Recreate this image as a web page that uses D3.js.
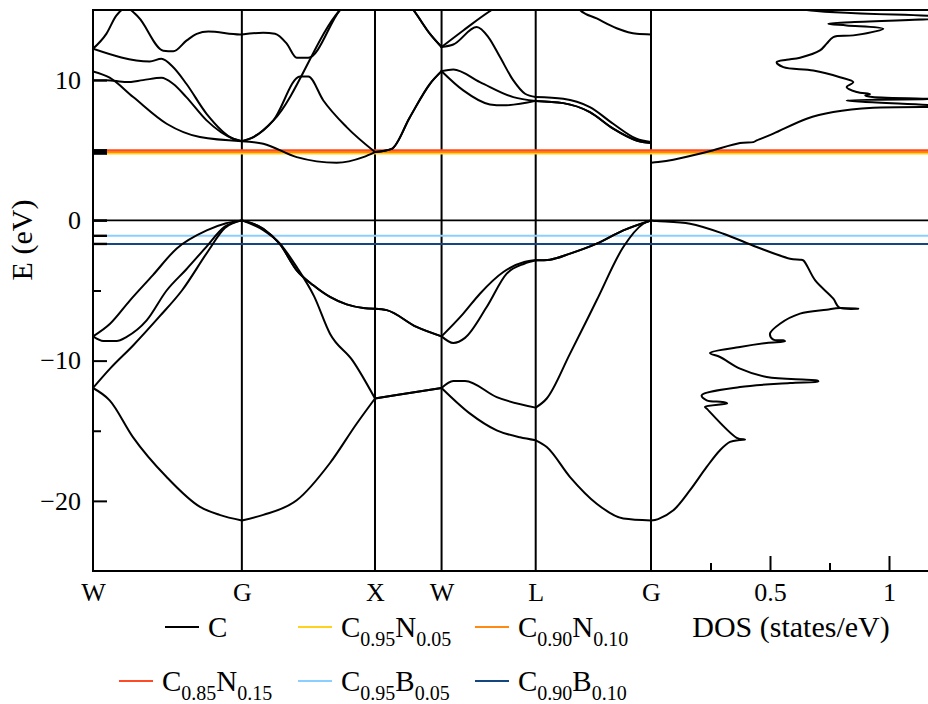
<!DOCTYPE html>
<html>
<head>
<meta charset="utf-8">
<script src="https://cdn.jsdelivr.net/npm/d3@7"></script>
<style>
  html, body { margin: 0; padding: 0; background: #fff; overflow: hidden; }
  svg text { font-family: "Liberation Serif", "Times New Roman", serif; fill: #000; }
</style>
</head>
<body>
<svg id="chart" width="928" height="704"></svg>
<script>
// High-symmetry points along the k-path (distance in units of 2π/a)
const kLabels = ["W", "G", "X", "W", "L", "G"];
const kPositions = [0, 1.118, 2.118, 2.618, 3.325, 4.191];

// Energy axis ticks (eV)
const energyTicks = [-20, -10, 0, 10];
const energyMinorTicks = [-15, -5, 5];

// DOS axis ticks (states/eV)
const dosTicks = [0.5, 1];
const dosMinorTicks = [0.25, 0.75];

// Valence bands of pure diamond, [k, E]
const band1 = [[0,-11.95],[0.125,-12.83],[0.30,-15.45],[0.553,-18.3],[0.804,-20.43],[0.95,-21.0],[1.118,-21.4],[1.279,-21.0],[1.53,-19.96],[1.78,-17.3],[1.98,-14.5],[2.118,-12.7],[2.28,-12.45],[2.618,-11.95],[2.832,-13.78],[3.032,-14.97],[3.207,-15.47],[3.325,-15.68],[3.408,-16.16],[3.583,-18.3],[3.783,-20.2],[3.983,-21.26],[4.191,-21.4]];
const band2 = [[0,-11.95],[0.128,-10.57],[0.303,-8.9],[0.5,-6.85],[0.668,-5.0],[0.864,-2.2],[0.99,-0.55],[1.118,0],[1.279,-0.7],[1.404,-1.66],[1.53,-3.33],[1.66,-5.4],[1.78,-8.08],[1.95,-10.0],[2.118,-12.7],[2.28,-12.45],[2.618,-11.95],[2.706,-11.45],[2.794,-11.45],[3.032,-12.6],[3.325,-13.35],[3.408,-12.7],[3.583,-9.5],[3.783,-5.7],[3.983,-1.9],[4.133,-0.24],[4.191,0]];
const band3 = [[0,-8.27],[0.078,-8.6],[0.178,-8.6],[0.253,-8.3],[0.403,-7.13],[0.553,-5.0],[0.7,-3.5],[0.841,-2.0],[0.99,-0.45],[1.118,0],[1.279,-0.6],[1.404,-1.7],[1.53,-3.56],[1.655,-4.63],[1.78,-5.46],[1.905,-5.99],[2.03,-6.25],[2.118,-6.3],[2.206,-6.4],[2.43,-7.6],[2.618,-8.27],[2.706,-8.74],[2.794,-8.38],[2.957,-6.18],[3.107,-3.8],[3.239,-3.09],[3.325,-2.85],[3.432,-2.8],[3.583,-2.37],[3.783,-1.66],[3.983,-0.71],[4.191,0]];
const band4 = [[0,-8.27],[0.128,-7.37],[0.278,-5.7],[0.45,-3.9],[0.629,-2.0],[0.854,-0.71],[1.0,-0.2],[1.118,0],[1.279,-0.6],[1.404,-1.7],[1.53,-3.56],[1.655,-4.63],[1.78,-5.46],[1.905,-5.99],[2.03,-6.25],[2.118,-6.3],[2.206,-6.4],[2.43,-7.6],[2.618,-8.27],[2.781,-6.65],[2.906,-5.23],[3.082,-3.68],[3.239,-2.97],[3.325,-2.85],[3.432,-2.8],[3.583,-2.37],[3.783,-1.66],[3.983,-0.71],[4.191,0]];

// Conduction bands, [k, E]
const band5 = [[0,10.0],[0.1,10.0],[0.25,9.86],[0.376,10.0],[0.514,10.17],[0.601,9.74],[0.701,8.79],[0.853,7.13],[1.053,5.82],[1.118,5.65],[1.279,5.47],[1.53,4.51],[1.83,4.11],[2.03,4.51],[2.118,4.87],[2.243,5.1],[2.38,7.36],[2.531,9.74],[2.618,10.64],[2.781,9.27],[2.981,8.27],[3.082,8.2],[3.325,8.52],[3.532,8.36],[3.732,7.72],[3.907,6.54],[4.082,5.7],[4.191,5.51]];
const band6 = [[0,10.62],[0.125,10.17],[0.302,8.79],[0.553,6.89],[0.803,5.94],[1.118,5.65],[1.205,5.94],[1.355,7.13],[1.555,10.26],[1.617,10.26],[1.73,8.55],[1.905,6.65],[2.118,4.87],[2.243,5.1],[2.38,7.36],[2.531,9.74],[2.618,10.64],[2.706,10.76],[2.906,9.86],[3.157,8.79],[3.325,8.52],[3.532,8.36],[3.732,7.72],[3.907,6.54],[4.082,5.7],[4.191,5.51]];
const band7 = [[0,12.24],[0.426,11.33],[0.514,11.52],[0.601,10.93],[0.701,9.74],[0.853,7.6],[1.053,5.82],[1.118,5.65],[1.205,5.94],[1.355,7.13],[1.855,15.0],[2.118,17.0],[2.306,16.1],[2.406,15.0],[2.531,13.3],[2.618,12.36],[2.706,12.54],[2.882,13.78],[2.969,13.07],[3.057,11.64],[3.157,9.98],[3.245,9.03],[3.325,8.79],[3.532,8.67],[3.732,8.07],[3.907,6.89],[4.082,5.82],[4.191,5.58]];
const band8 = [[0,12.24],[0.1,13.3],[0.175,14.6],[0.25,15.15],[0.34,14.5],[0.528,12.1],[0.603,12.05],[0.704,12.83],[0.779,13.3],[0.866,13.47],[1.104,13.26],[1.118,13.26],[1.279,13.38],[1.367,13.3],[1.455,12.6],[1.53,11.6],[1.617,11.6],[1.855,15.0],[2.118,17.0],[2.306,16.1],[2.406,15.0],[2.531,13.3],[2.618,12.36],[2.781,13.54],[2.995,15.0],[3.325,16.5],[3.62,15.5],[3.658,15.0],[3.783,14.4],[3.933,13.7],[4.084,13.3],[4.191,13.26]];

// Total density of states, [E, DOS]
const dosValence = [[-21.4,0],[-21.3,0.03],[-20.67,0.094],[-19.24,0.164],[-17.58,0.234],[-16.39,0.29],[-15.8,0.332],[-15.66,0.374],[-15.63,0.395],[-15.5,0.36],[-13.42,0.234],[-13.3,0.227],[-13.05,0.32],[-12.95,0.3],[-12.83,0.234],[-12.47,0.213],[-11.88,0.374],[-11.6,0.584],[-11.48,0.703],[-11.42,0.7],[-11.36,0.654],[-11.17,0.486],[-10.57,0.374],[-9.74,0.29],[-9.46,0.248],[-9.03,0.374],[-8.74,0.486],[-8.62,0.563],[-8.55,0.555],[-8.5,0.514],[-8.08,0.5],[-7.37,0.542],[-6.65,0.626],[-6.37,0.738],[-6.25,0.794],[-6.3,0.871],[-6.2,0.79],[-5.58,0.766],[-4.28,0.69],[-2.85,0.64],[-2.8,0.626],[-2.73,0.584],[-1.9,0.444],[-0.95,0.304],[-0.24,0.164],[-0.05,0.024],[0,0]];
const dosConduction = [[4.11,0],[4.16,0.03],[4.33,0.094],[4.87,0.234],[5.51,0.374],[5.58,0.43],[5.7,0.444],[6.18,0.514],[7.25,0.654],[7.72,0.766],[8.03,0.934],[8.12,1.25],[8.55,0.822],[8.65,1.2],[8.79,0.93],[8.9,0.9],[9.0,0.92],[9.15,0.864],[9.5,0.822],[9.86,0.85],[10.21,0.794],[10.69,0.682],[10.93,0.556],[11.28,0.528],[11.45,0.57],[11.6,0.626],[12.12,0.71],[12.6,0.738],[13.07,0.766],[13.19,0.85],[13.66,0.976],[13.9,0.822],[14.02,0.745],[14.47,1.25],[15.0,0.655],[15.3,0.6]];

// Fermi levels of the doped compositions (eV)
const levelNames = ["C", "C0.95N0.05", "C0.90N0.10", "C0.85N0.15", "C0.95B0.05", "C0.90B0.10"];
const levelEnergies = [0, 4.76, 4.88, 5.0, -1.1, -1.68];
const levelColors = ["#000000", "#FFD21F", "#FF8A12", "#FF4A26", "#8ACFFF", "#14477F"];

const bands = [band1, band2, band3, band4, band5, band6, band7, band8];

const serif = '"Liberation Serif", "Times New Roman", serif';

// ---- layout ----
const svg = d3.select("#chart");
const plotLeft = 93, plotTop = 10, plotBottom = 571, plotRight = 940;

const x = d3.scaleLinear().domain([0, d3.max(kPositions)]).range([plotLeft, 651]);
const xDos = d3.scaleLinear().domain([0, 1]).range([x(d3.max(kPositions)), 889]);
const y = d3.scaleLinear().domain([-25, 15]).range([plotBottom, plotTop]);

const defs = svg.append("defs");
defs.append("clipPath").attr("id", "clip-bands")
  .append("rect").attr("x", plotLeft).attr("y", plotTop)
  .attr("width", x.range()[1] - plotLeft).attr("height", plotBottom - plotTop);
defs.append("clipPath").attr("id", "clip-dos")
  .append("rect").attr("x", xDos(0)).attr("y", plotTop)
  .attr("width", plotRight - xDos(0)).attr("height", plotBottom - plotTop);

// vertical lines at the high-symmetry points
svg.append("g").selectAll("line")
  .data(kPositions.slice(1))
  .join("line")
  .attr("x1", d => x(d)).attr("x2", d => x(d))
  .attr("y1", plotTop).attr("y2", plotBottom)
  .attr("stroke", "#000").attr("stroke-width", 2);

// Fermi levels, stacked so the nitrogen set shows red on top
const levelOrder = [0, 4, 5, 1, 2, 3];
const levels = svg.append("g");
levelOrder.forEach(i => {
  const yy = y(levelEnergies[i]);
  levels.append("line")
    .attr("x1", plotLeft + 14).attr("x2", plotRight)
    .attr("y1", yy).attr("y2", yy)
    .attr("stroke", levelColors[i]).attr("stroke-width", i === 0 ? 1.6 : 2);
});
levelOrder.forEach(i => {
  const yy = y(levelEnergies[i]);
  levels.append("line")
    .attr("x1", plotLeft).attr("x2", plotLeft + 14)
    .attr("y1", yy).attr("y2", yy)
    .attr("stroke", "#000").attr("stroke-width", 2.4);
});

// band structure: each band is split at the high-symmetry points and
// smoothed within each segment, keeping the kinks at the segment ends
function splitAtSymmetryPoints(band) {
  const segs = [];
  for (let i = 0; i < kPositions.length - 1; i++) {
    const a = kPositions[i] - 0.003, b = kPositions[i + 1] + 0.003;
    const seg = band.filter(d => d[0] >= a && d[0] <= b);
    if (seg.length > 1) segs.push(seg);
  }
  return segs;
}
const bandSegments = bands.flatMap(splitAtSymmetryPoints);
const bandLine = d3.line().x(d => x(d[0])).y(d => y(d[1])).curve(d3.curveMonotoneX);
svg.append("g").attr("clip-path", "url(#clip-bands)")
  .selectAll("path").data(bandSegments).join("path")
  .attr("d", bandLine)
  .attr("fill", "none").attr("stroke", "#000")
  .attr("stroke-width", 2).attr("stroke-linejoin", "round").attr("stroke-linecap", "round");

// density of states
const dosLine = d3.line().x(d => xDos(d[1])).y(d => y(d[0])).curve(d3.curveCatmullRom.alpha(0.5));
svg.append("g").attr("clip-path", "url(#clip-dos)")
  .selectAll("path").data([dosValence, dosConduction]).join("path")
  .attr("d", dosLine)
  .attr("fill", "none").attr("stroke", "#000")
  .attr("stroke-width", 2).attr("stroke-linejoin", "round");

// frame
const frame = svg.append("g").attr("stroke", "#000").attr("stroke-width", 2);
frame.append("line").attr("x1", plotLeft).attr("x2", plotLeft).attr("y1", plotTop - 1).attr("y2", plotBottom + 1);
frame.append("line").attr("x1", plotLeft - 1).attr("x2", plotRight).attr("y1", plotTop).attr("y2", plotTop);
frame.append("line").attr("x1", plotLeft - 1).attr("x2", plotRight).attr("y1", plotBottom).attr("y2", plotBottom);

// energy axis
const yAxis = svg.append("g").attr("transform", `translate(${plotLeft},0)`)
  .call(d3.axisLeft(y).tickValues(energyTicks).tickSize(-14).tickPadding(12).tickSizeOuter(0));
yAxis.select(".domain").remove();
yAxis.selectAll(".tick line").attr("stroke-width", 2);
yAxis.selectAll("text").attr("font-size", 26).style("font-family", serif);

const yMinor = svg.append("g").attr("transform", `translate(${plotLeft},0)`)
  .call(d3.axisLeft(y).tickValues(energyMinorTicks).tickSize(-8).tickFormat(""));
yMinor.select(".domain").remove();
yMinor.selectAll(".tick line").attr("stroke-width", 2);

// k-path labels
const kAxis = svg.append("g").attr("transform", `translate(0,${plotBottom})`)
  .call(d3.axisBottom(x).tickValues(kPositions).tickFormat((d, i) => kLabels[i]).tickSize(0).tickPadding(12));
kAxis.select(".domain").remove();
kAxis.selectAll("text").attr("font-size", 26).style("font-family", serif);

// DOS axis
const dAxis = svg.append("g").attr("transform", `translate(0,${plotBottom})`)
  .call(d3.axisBottom(xDos).tickValues(dosTicks).tickFormat(d3.format("~g")).tickSize(-15).tickPadding(12));
dAxis.select(".domain").remove();
dAxis.selectAll(".tick line").attr("stroke-width", 2);
dAxis.selectAll("text").attr("font-size", 26).style("font-family", serif);

const dMinor = svg.append("g").attr("transform", `translate(0,${plotBottom})`)
  .call(d3.axisBottom(xDos).tickValues(dosMinorTicks).tickSize(-8).tickFormat(""));
dMinor.select(".domain").remove();
dMinor.selectAll(".tick line").attr("stroke-width", 2);

// axis titles
svg.append("text")
  .attr("transform", "translate(32,240) rotate(-90)")
  .attr("text-anchor", "middle").attr("font-size", 30)
  .style("font-family", serif)
  .text("E (eV)");
svg.append("text")
  .attr("x", 791).attr("y", 637).attr("text-anchor", "middle").attr("font-size", 30)
  .style("font-family", serif)
  .text("DOS (states/eV)");

// legend
const legendSlots = [[165, 627], [298, 627], [475, 627], [119, 681], [298, 681], [475, 681]];
const legend = svg.append("g");
levelNames.forEach((name, i) => {
  const [lx, ly] = legendSlots[i];
  legend.append("line")
    .attr("x1", lx).attr("x2", lx + 34).attr("y1", ly).attr("y2", ly)
    .attr("stroke", levelColors[i]).attr("stroke-width", 2);
  const t = legend.append("text").attr("x", lx + 43).attr("y", ly + 10)
    .attr("font-size", 29).style("font-family", serif);
  const parts = name.match(/[A-Z][a-z]?|[\d.]+/g);
  parts.forEach((p, j) => {
    if (/^[\d.]+$/.test(p)) {
      t.append("tspan").attr("font-size", 20).attr("dy", 9).text(p);
    } else {
      const s = t.append("tspan").text(p);
      if (j > 0) s.attr("dy", -9);
    }
  });
});
</script>
</body>
</html>
